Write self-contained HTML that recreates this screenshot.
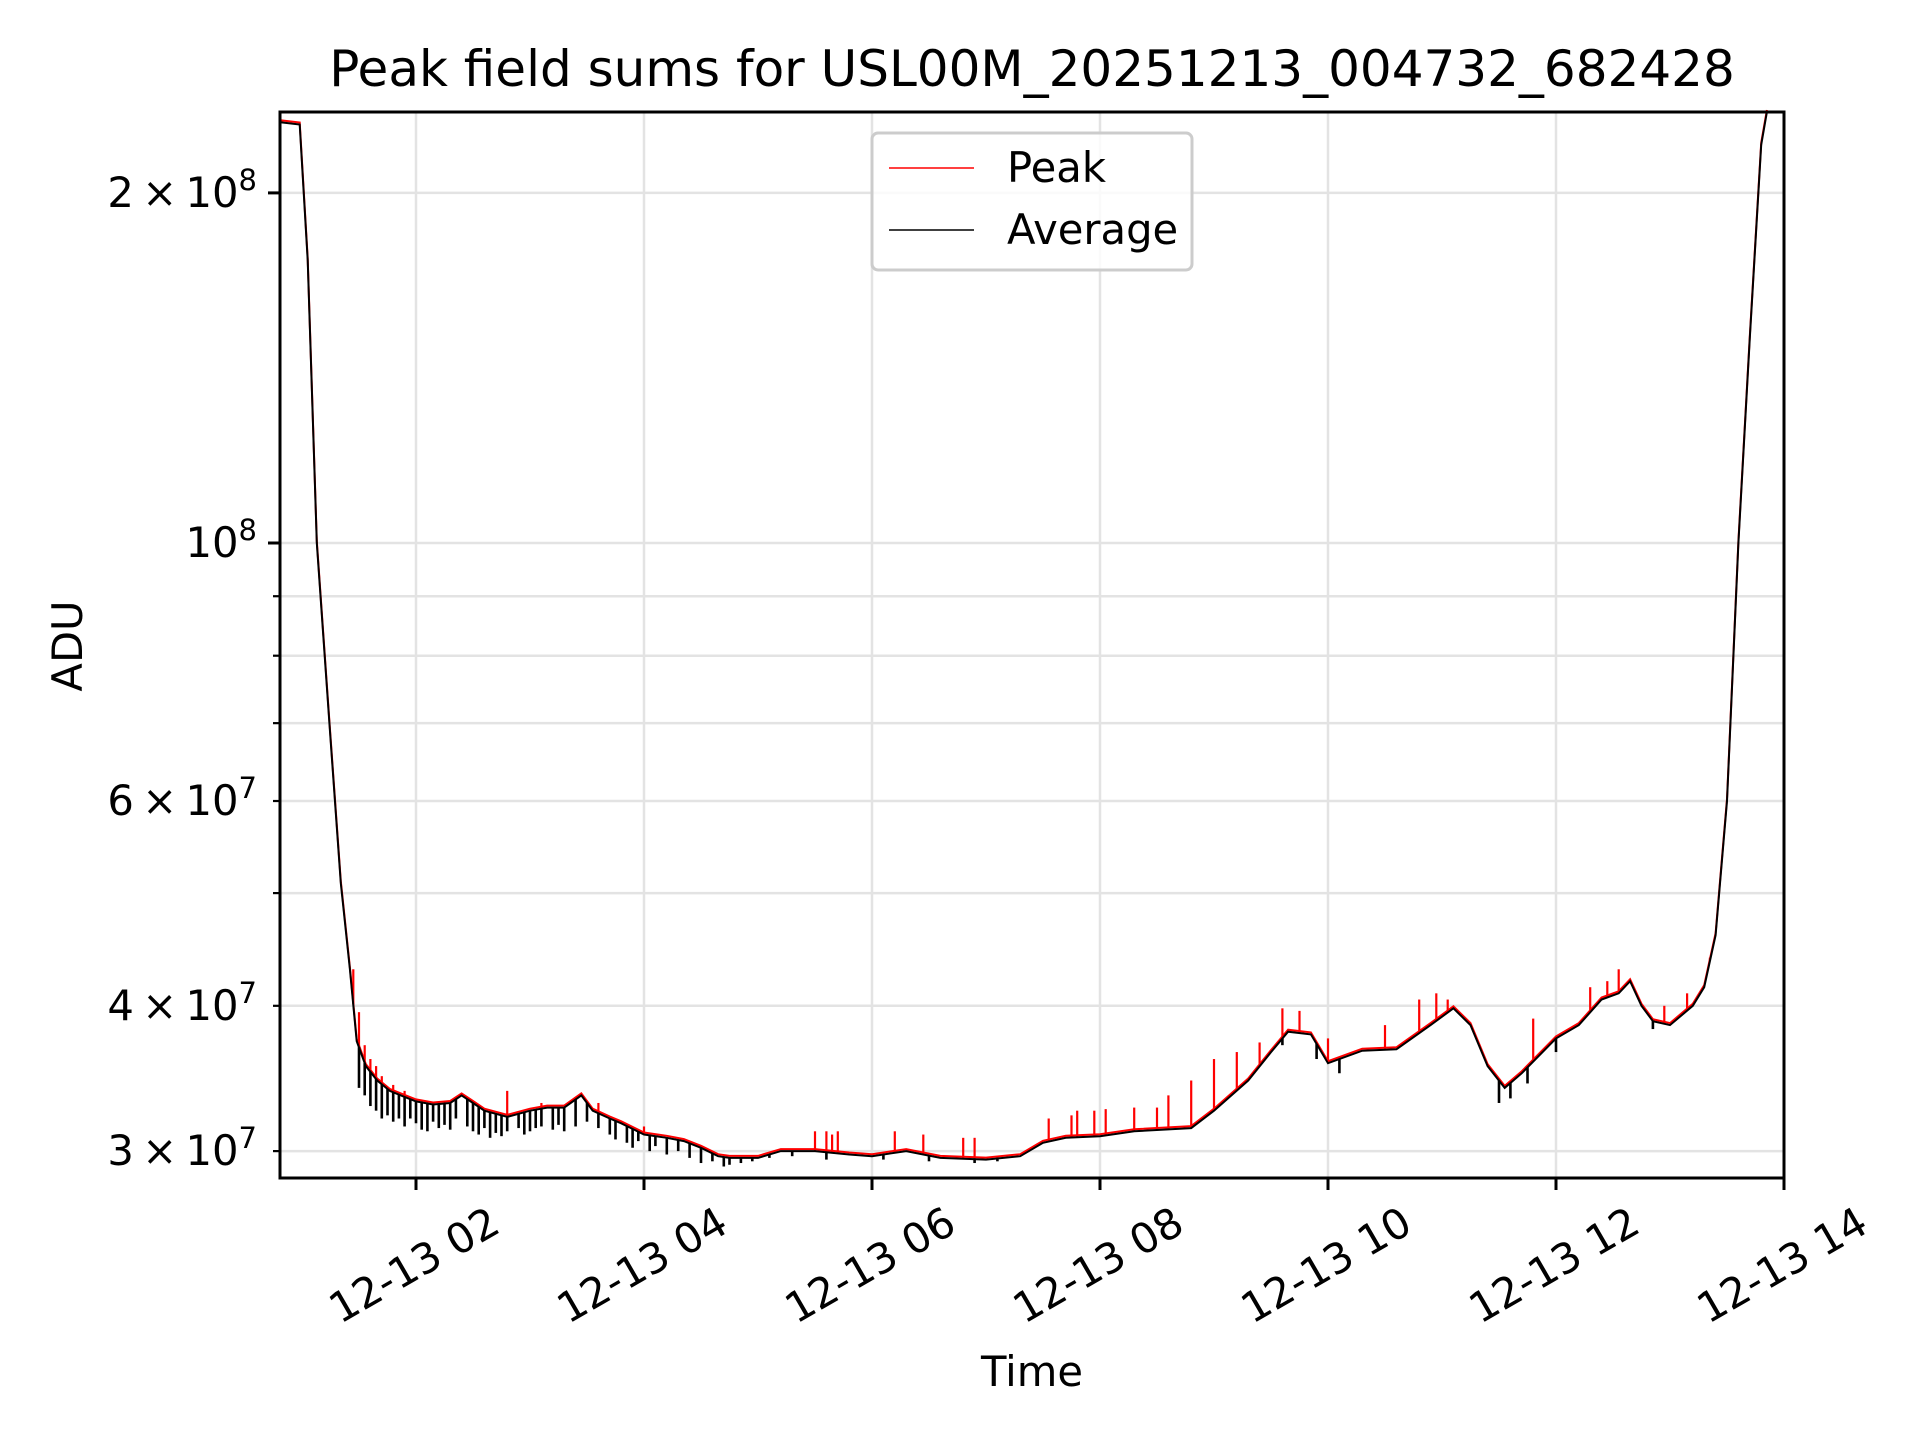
<!DOCTYPE html>
<html><head><meta charset="utf-8"><style>
html,body{margin:0;padding:0;background:#fff;}
svg{display:block;font-family:"DejaVu Sans","Liberation Sans",sans-serif;}
</style></head><body>
<svg id="chart" width="1920" height="1440" viewBox="0 0 1920 1440" xmlns="http://www.w3.org/2000/svg">
<rect width="1920" height="1440" fill="#fff"/>
<text x="1032" y="86" text-anchor="middle" font-size="50" fill="#000">Peak field sums for USL00M_20251213_004732_682428</text>
<g id="grid"></g>
<g id="series"></g>
<rect x="280" y="112" width="1504" height="1066" fill="none" stroke="#000" stroke-width="3"/>
<g id="axes"></g>
<text transform="translate(82,646) rotate(-90)" text-anchor="middle" font-size="41.7" fill="#000">ADU</text>
<text x="1032" y="1386" text-anchor="middle" font-size="41.7" fill="#000">Time</text>
<g>
<rect x="872" y="133" width="320" height="137" rx="6" fill="#fff" fill-opacity="0.8" stroke="#ccc" stroke-width="3"/>
<g><line x1="889" y1="168" x2="974" y2="168" stroke="#f00" stroke-width="1.6"/><text x="1007" y="182" font-size="41.7">Peak</text></g>
<g><line x1="889" y1="230" x2="974" y2="230" stroke="#000" stroke-width="1.6"/><text x="1007" y="244" font-size="41.7">Average</text></g>
</g>
</svg>
<script>
// data (hours after 12-13 00:00; values in units of 1e7 ADU)
const avgTimes = [0.81,0.98,1.05,1.13,1.24,1.34,1.42,1.48,1.56,1.66,1.77,1.9,2.0,2.15,2.3,2.4,2.5,2.6,2.8,3.0,3.15,3.3,3.45,3.55,3.7,3.8,4.0,4.2,4.35,4.5,4.65,4.75,5.0,5.2,5.5,5.8,6.0,6.3,6.6,7.0,7.3,7.5,7.7,8.0,8.3,8.8,9.0,9.3,9.5,9.65,9.85,10.0,10.3,10.6,10.9,11.1,11.25,11.4,11.55,11.7,12.0,12.2,12.4,12.55,12.65,12.75,12.85,13.0,13.2,13.3,13.4,13.5,13.6,13.7,13.8,13.85];
const avgValues = [23.0,22.9,17.5,10.0,7.0,5.1,4.3,3.73,3.55,3.45,3.38,3.34,3.31,3.29,3.3,3.35,3.3,3.25,3.21,3.25,3.27,3.27,3.35,3.25,3.2,3.17,3.1,3.08,3.06,3.02,2.97,2.96,2.96,3.0,3.0,2.98,2.97,3.0,2.96,2.95,2.97,3.05,3.08,3.09,3.12,3.14,3.25,3.45,3.65,3.8,3.78,3.57,3.66,3.67,3.85,3.98,3.85,3.55,3.4,3.5,3.75,3.85,4.05,4.1,4.2,4.0,3.88,3.85,4.0,4.15,4.6,6.0,10.0,15.0,22.0,24.5];
const dipTimes = [1.5,1.55,1.6,1.65,1.7,1.75,1.8,1.85,1.9,1.95,2.0,2.05,2.1,2.15,2.2,2.25,2.3,2.35,2.45,2.5,2.55,2.6,2.65,2.7,2.75,2.8,2.9,2.95,3.0,3.05,3.1,3.2,3.25,3.3,3.4,3.5,3.6,3.7,3.75,3.85,3.9,3.95,4.05,4.1,4.2,4.3,4.4,4.5,4.6,4.7,4.75,4.85,4.95,5.1,5.3,5.6,6.1,6.5,6.9,7.1,9.6,9.9,10.1,11.5,11.6,11.75,12.0,12.85];
const dipValues = [3.4,3.35,3.28,3.25,3.2,3.22,3.18,3.2,3.15,3.2,3.17,3.13,3.12,3.18,3.14,3.16,3.13,3.2,3.15,3.12,3.1,3.14,3.08,3.11,3.09,3.12,3.14,3.1,3.12,3.14,3.15,3.13,3.16,3.12,3.15,3.18,3.14,3.1,3.07,3.05,3.02,3.06,3.0,3.03,2.98,3.0,2.96,2.93,2.94,2.91,2.92,2.93,2.94,2.96,2.97,2.95,2.95,2.94,2.93,2.94,3.7,3.6,3.5,3.3,3.33,3.43,3.65,3.82];
const spikeTimes = [1.45,1.5,1.55,1.6,1.65,1.7,1.8,1.9,2.8,3.1,3.6,4.0,5.5,5.6,5.65,5.7,6.2,6.45,6.8,6.9,7.55,7.75,7.8,7.95,8.05,8.3,8.5,8.6,8.8,9.0,9.2,9.4,9.6,9.75,10.0,10.5,10.8,10.95,11.05,11.8,12.3,12.45,12.55,12.95,13.15,13.35];
const spikeValues = [4.3,3.95,3.7,3.6,3.55,3.48,3.42,3.38,3.38,3.3,3.3,3.15,3.12,3.12,3.1,3.12,3.12,3.1,3.08,3.08,3.2,3.22,3.25,3.25,3.26,3.27,3.27,3.35,3.45,3.6,3.65,3.72,3.98,3.96,3.75,3.85,4.05,4.1,4.05,3.9,4.15,4.2,4.3,4.0,4.1,4.4];
const yMajorTicks = [20,10];
const yMinorTicks = [3,4,5,6,7,8,9];
const yLabelMant = {20:"2",10:"",3:"3",4:"4",6:"6"};
const xTickHours = [2,4,6,8,10,12,14];
const xTickLabels = ["12-13 02","12-13 04","12-13 06","12-13 08","12-13 10","12-13 12","12-13 14"];

const L=280,R=1784,T=112,B=1178;
const x = h => 1784 - (14 - h) * 114;
const y = v => 543 - Math.log10(v / 10) * 1163;
const NS="http://www.w3.org/2000/svg";
function mk(tag, parent, attrs){const e=document.createElementNS(NS,tag);for(const k in attrs)e.setAttribute(k,attrs[k]);parent.appendChild(e);return e;}
const grid=document.getElementById('grid'), axes=document.getElementById('axes'), ser=document.getElementById('series');
const clampY = v => Math.max(T, Math.min(B, y(v)));

[...yMajorTicks, ...yMinorTicks].forEach(v=>{
  const yy=y(v), major=yMajorTicks.includes(v);
  const g=mk('line',grid,{x1:L,x2:R,y1:yy,y2:yy,stroke:'#e3e3e3','stroke-width':2.5});
  
  
  const t=mk('line',axes,{x1:L-(major?12:7),x2:L,y1:yy,y2:yy,stroke:'#000','stroke-width':major?3:2.2});
  
  
  if(v in yLabelMant){
    const tx=mk('text',axes,{x:257,y:yy+14,'text-anchor':'end','font-size':41.7});
    
    
    const m=yLabelMant[v];
    const exp = v>=10 ? (v>=100?9:8) : 7;
    tx.innerHTML = (m? m+'\u2009\u00d7\u200910':'10') + '<tspan font-size="29" dy="-17">'+exp+'</tspan>';
  }
});
xTickHours.forEach((h,i)=>{
  const xx=x(h);
  if(h<14){const g=mk('line',grid,{x1:xx,x2:xx,y1:T,y2:B,stroke:'#e3e3e3','stroke-width':2.5});
  
  }
  const t=mk('line',axes,{x1:xx,x2:xx,y1:B,y2:B+12,stroke:'#000','stroke-width':3});
  
  
  const tx=mk('text',axes,{x:0,y:0,'text-anchor':'middle','dominant-baseline':'central','font-size':41.7,transform:`translate(${xx-2},1265) rotate(-30)`});
  
  
  tx.textContent=xTickLabels[i];
});

const avgAt = h => {for(let i=1;i<avgTimes.length;i++){if(h<=avgTimes[i]){const f=(h-avgTimes[i-1])/(avgTimes[i]-avgTimes[i-1]);return avgValues[i-1]+(avgValues[i]-avgValues[i-1])*f;}}return avgValues[avgValues.length-1];};
let pd='';
avgTimes.forEach((h,i)=>{pd+=(i?'L':'M')+x(h).toFixed(1)+','+(clampY(avgValues[i])-2).toFixed(1);});
const pk=mk('path',ser,{d:pd,fill:'none',stroke:'#f00','stroke-width':2});


spikeTimes.forEach((h,i)=>{
  const s=mk('line',ser,{x1:x(h),x2:x(h),y1:y(avgAt(h)),y2:y(spikeValues[i]),stroke:'#f00','stroke-width':2.2});
  
  
});
let ad='';
avgTimes.forEach((h,i)=>{ad+=(i?'L':'M')+x(h).toFixed(1)+','+clampY(avgValues[i]).toFixed(1);});
const av=mk('path',ser,{d:ad,fill:'none',stroke:'#000','stroke-width':2});


dipTimes.forEach((h,i)=>{
  const s=mk('line',ser,{x1:x(h),x2:x(h),y1:y(avgAt(h)),y2:y(dipValues[i]),stroke:'#000','stroke-width':2.6});
  
  
});
</script>
</body></html>
